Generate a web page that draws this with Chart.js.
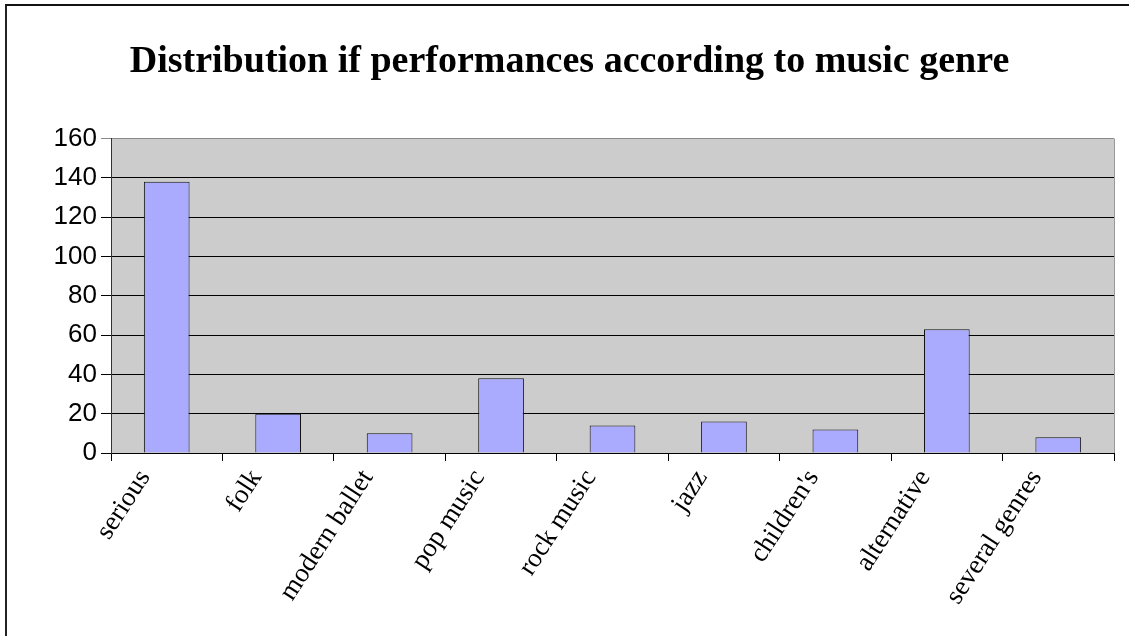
<!DOCTYPE html>
<html>
<head>
<meta charset="utf-8">
<title>Distribution if performances according to music genre</title>
<script src="https://cdn.jsdelivr.net/npm/chart.js@4.4.0/dist/chart.umd.min.js"></script>
<style>
    html, body { margin: 0; padding: 0; background: #fff; }
    #wrap { position: relative; width: 1129px; height: 636px; overflow: hidden; }
    #chart { position: absolute; left: 0; top: 0; }
    /* outer frame, only top and left edges show in the picture */
    #frame { position: absolute; left: 5px; top: 4px; width: 1200px; height: 700px;
             border-top: 2px solid #111; border-left: 2px solid #222; pointer-events: none; }
</style>
</head>
<body>
<div id="wrap">
    <canvas id="chart" width="1129" height="636"></canvas>
    <div id="frame"></div>
</div>
<script>
// Chart data
const chartTitle = 'Distribution if performances according to music genre';
const genres = ['serious', 'folk', 'modern ballet', 'pop music', 'rock music', 'jazz', "children's", 'alternative', 'several genres'];
const performances = [138, 20, 10, 38, 14, 16, 12, 63, 8];
const yMin = 0;
const yMax = 160;
const yStep = 20;

// grey plot area + grey right edge
const plotArea = {
    id: 'plotArea',
    beforeDraw(chart) {
        const { ctx, chartArea: a } = chart;
        ctx.save();
        ctx.fillStyle = '#cccccc';
        ctx.fillRect(a.left, a.top, a.right - a.left, a.bottom - a.top);
        ctx.restore();
    },
    afterDraw(chart) {
        const { ctx, chartArea: a } = chart;
        ctx.save();
        ctx.strokeStyle = '#9a9a9a';
        ctx.lineWidth = 1;
        ctx.beginPath();
        ctx.moveTo(a.right + 0.5, a.top);
        ctx.lineTo(a.right + 0.5, a.bottom);
        ctx.stroke();
        ctx.restore();
    }
};

new Chart(document.getElementById('chart'), {
    type: 'bar',
    data: {
        labels: genres,
        datasets: [{
            label: 'performances',
            data: performances,
            backgroundColor: '#aaaaff',
            borderColor: '#111111',
            borderWidth: 1,
            barPercentage: 0.41,
            categoryPercentage: 1
        }]
    },
    options: {
        responsive: false,
        animation: false,
        devicePixelRatio: 1,
        layout: { padding: { left: 25, right: 15, top: 0, bottom: 0 } },
        plugins: {
            legend: { display: false },
            tooltip: { enabled: false },
            title: {
                display: true,
                text: chartTitle,
                color: '#000',
                font: { family: 'Liberation Serif', size: 38, weight: 'bold', lineHeight: 1.2 },
                padding: { top: 39, bottom: 54 }
            }
        },
        scales: {
            x: {
                offset: true,
                grid: {
                    offset: true,
                    drawOnChartArea: false,
                    drawTicks: true,
                    tickLength: 8,
                    color: '#000'
                },
                border: { display: true, color: '#000', width: 1 },
                ticks: {
                    color: '#000',
                    font: { family: 'Liberation Serif', size: 27 },
                    minRotation: 57,
                    maxRotation: 57,
                    autoSkip: false,
                    padding: 3,
                    labelOffset: -22
                },
                afterFit(scale) {
                    scale.height = 183;
                }
            },
            y: {
                min: yMin,
                max: yMax,
                grid: {
                    color: (c) => c.tick && c.tick.value === yMax ? '#8a8a8a' : '#000',
                    tickLength: 10,
                    lineWidth: 1
                },
                border: { display: true, color: '#333', width: 1 },
                ticks: {
                    stepSize: yStep,
                    color: '#000',
                    font: { family: 'Liberation Sans', size: 26 },
                    padding: 4
                },
                afterFit(scale) {
                    scale.width = 86;
                }
            }
        }
    },
    plugins: [plotArea]
});
</script>
</body>
</html>
